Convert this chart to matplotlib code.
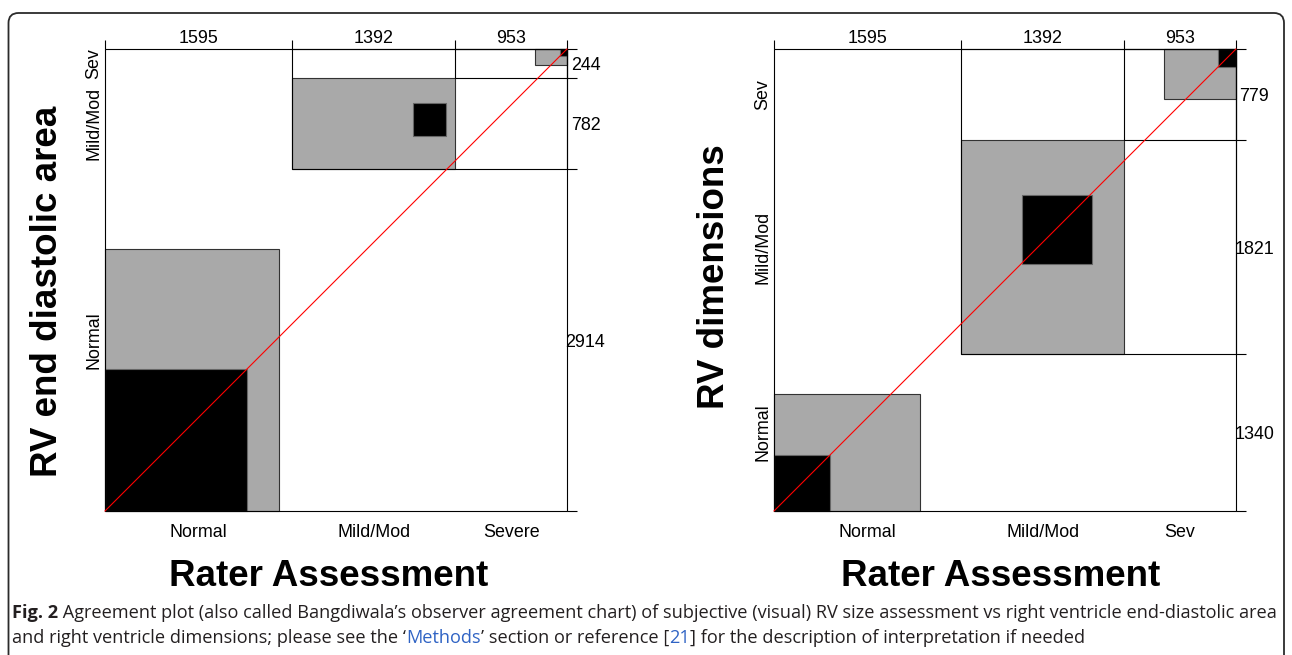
import numpy as np
import matplotlib
matplotlib.use("Agg")
import matplotlib.pyplot as plt
from matplotlib.patches import Rectangle, FancyBboxPatch
from matplotlib.transforms import offset_copy, IdentityTransform

# cross-tabulated counts: rows = measured RV size (Normal, Mild/Mod, Sev),
# columns = rater assessment (Normal, Mild/Mod, Severe)
area_counts = np.array([[1208, 1028, 678],
                        [280, 284, 218],
                        [107, 80, 57]])
dim_counts = np.array([[478, 523, 339],
                       [767, 590, 464],
                       [350, 279, 150]])

area_xlabels = ["Normal", "Mild/Mod", "Severe"]
dim_xlabels = ["Normal", "Mild/Mod", "Sev"]
ylabels = ["Normal", "Mild/Mod", "Sev"]

W, H = 1292, 655
PANEL = 462          # side of each square panel, px
FS = 12.9            # category / total labels
TITLE_FS = 26.5
GREY = "#a9a9a9"

plt.rcParams["font.family"] = ["Liberation Sans", "DejaVu Sans"]

fig = plt.figure(figsize=(W / 100, H / 100), dpi=100)


def agreement_plot(x0, top, counts, xlabels, ylabels, ylab, ylab_x, ylab_y, xlab_x):
    ax = fig.add_axes([x0 / W, (H - top - PANEL) / H, PANEL / W, PANEL / H])
    n = counts.sum()
    col_tot = counts.sum(axis=0)
    row_tot = counts.sum(axis=1)
    xc = np.concatenate([[0], np.cumsum(col_tot)])
    yc = np.concatenate([[0], np.cumsum(row_tot)])
    k = len(col_tot)
    px = n / PANEL
    ax.set_xlim(0, n)
    ax.set_ylim(0, n)
    ax.axis("off")

    for i in range(k):
        # partial agreement: diagonal plus neighbouring categories
        lo, hi = max(i - 1, 0), min(i + 1, k - 1)
        ax.add_patch(Rectangle((xc[i] + counts[:lo, i].sum(), yc[i] + counts[i, :lo].sum()),
                               counts[lo:hi + 1, i].sum(), counts[i, lo:hi + 1].sum(),
                               fc=GREY, ec="#333333", lw=0.8, zorder=1, clip_on=False))
        # exact agreement
        d = counts[i, i]
        ax.add_patch(Rectangle((xc[i] + counts[:i, i].sum(), yc[i] + counts[i, :i].sum()), d, d,
                               fc="black", ec="#666666", lw=0.8, zorder=2, clip_on=False))
    for i in range(k):
        ax.add_patch(Rectangle((xc[i], yc[i]), n - xc[i], n - yc[i], fill=False,
                               ec="black", lw=0.8, zorder=3, clip_on=False))

    ax.vlines(xc, n, n + 9 * px, colors="black", lw=0.8, clip_on=False)
    ax.hlines(yc, n, n + 10 * px, colors="black", lw=0.8, clip_on=False)
    ax.plot([0, n], [0, n], color="red", lw=0.8, zorder=4, clip_on=False)

    def off(dx=0, dy=0):
        return offset_copy(ax.transData, fig=fig, x=dx, y=dy, units="dots")

    xmid = (xc[:-1] + xc[1:]) / 2
    ymid = (yc[:-1] + yc[1:]) / 2
    for xm, lab, tot in zip(xmid, xlabels, col_tot):
        ax.text(xm, n, str(tot), transform=off(dy=6.3), ha="center", va="baseline", fontsize=FS)
        ax.text(xm, 0, lab, transform=off(dy=-25.7), ha="center", va="baseline", fontsize=FS)
    for ym, lab, tot in zip(ymid, ylabels, row_tot):
        ax.text(n, ym, str(tot), transform=off(dx=18.5, dy=-6.4), ha="center", va="baseline", fontsize=FS)
        ax.text(0, ym, lab, transform=off(dx=-6.5), rotation=90, rotation_mode="anchor",
                ha="center", va="baseline", fontsize=FS)

    fig.text(ylab_x / W, 1 - ylab_y / H, ylab, rotation=90, rotation_mode="anchor",
             ha="center", va="baseline", fontsize=TITLE_FS, weight="bold")
    fig.text(xlab_x / W, 1 - 586 / H, "Rater Assessment", ha="center", va="baseline",
             fontsize=TITLE_FS, weight="bold")


agreement_plot(105, 49, area_counts, area_xlabels, ylabels, "RV end diastolic area", 57, 291, 329)
agreement_plot(774, 49, dim_counts, dim_xlabels, ylabels, "RV dimensions", 724, 277, 1001)

# rounded frame, open at the bottom
frame = FancyBboxPatch((8.5, -30), 1284 - 8.5, (H - 13) + 30,
                       boxstyle="round,pad=0,rounding_size=10",
                       transform=IdentityTransform(), fill=False, ec="#2b2b2b", lw=1.3)
fig.add_artist(frame)

# caption
INK = "#231f20"
BLUE = "#2f63c4"
cap_font = ["Liberation Sans Narrow", "Open Sans", "DejaVu Sans"]
line1_parts = [("Fig. 2", INK, "bold"),
               (" Agreement plot (also called Bangdiwala\u2019s observer agreement chart) of subjective "
                "(visual) RV size assessment vs right ventricle end-diastolic area", INK, "normal")]
line2_parts = [("and right ventricle dimensions; please see the \u2018", INK, "normal"),
               ("Methods", BLUE, "normal"),
               ("\u2019 section or reference [", INK, "normal"),
               ("21", BLUE, "normal"),
               ("] for the description of interpretation if needed", INK, "normal")]


def make_line(parts, baseline):
    return [fig.text(0, 1 - baseline / H, s, color=c, weight=w, family=cap_font,
                     ha="left", va="baseline", fontsize=10) for s, c, w in parts]


def place(line, x0, renderer):
    x = x0
    for t in line:
        t.set_x(x / W)
        x += t.get_window_extent(renderer).width
    return x


line1 = make_line(line1_parts, 618)
line2 = make_line(line2_parts, 643)
renderer = fig.canvas.get_renderer()
width = place(line1, 12, renderer) - 12
scale = (1278 - 12) / width
for t in line1 + line2:
    t.set_fontsize(10 * scale)
place(line1, 12, renderer)
place(line2, 12, renderer)

fig.savefig("out.png", dpi=100)
